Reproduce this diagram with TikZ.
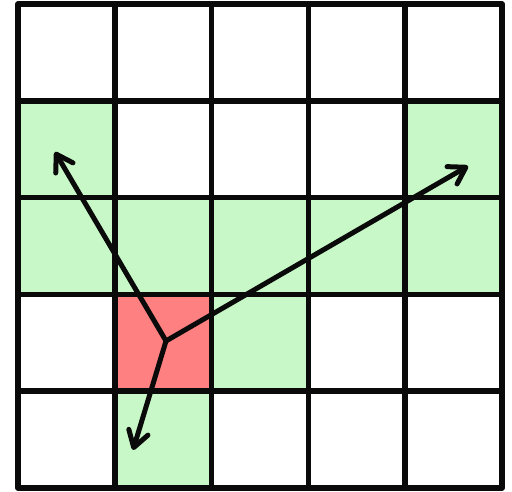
\documentclass[tikz,border=0pt]{standalone}
\usetikzlibrary{arrows.meta}

\definecolor{cellgreen}{RGB}{200,248,200}
\definecolor{cellred}{RGB}{255,128,128}
\definecolor{ink}{RGB}{10,10,10}

\begin{document}
\begin{tikzpicture}[
    x=48.4pt, y=-48.4pt,
    >={Straight Barb[length=8pt,width=10pt,round]},
    reach/.style={fill=cellgreen},
    origin/.style={fill=cellred},
    gridline/.style={draw=ink, line width=2.8pt, line cap=round, line join=round},
    move/.style={->, draw=ink, line width=2.5pt, line cap=round},
]
\useasboundingbox (-0.186,-0.041) rectangle (5.103,5.031);

% ---- cells ---------------------------------------------------------
\foreach \c/\r in {0/1, 4/1, 0/2, 1/2, 2/2, 3/2, 4/2, 2/3, 1/4}
    \fill[reach] (\c,\r) rectangle ++(1,1);
\fill[origin] (1,3) rectangle ++(1,1);

% ---- grid ----------------------------------------------------------
\foreach \i in {1,...,4} {
    \draw[gridline] (\i,0) -- (\i,5);
    \draw[gridline] (0,\i) -- (5,\i);
}
\draw[gridline] (0,0) rectangle (5,5);

% ---- moves ---------------------------------------------------------
\coordinate (piece) at (1.529,3.481);
\coordinate (upleft) at (0.382,1.529);
\coordinate (upright) at (4.649,1.674);
\coordinate (down) at (1.188,4.607);
\draw[move] (piece) -- (upleft);
\draw[move] (piece) -- (upright);
\draw[move] (piece) -- (down);

\end{tikzpicture}
\end{document}
